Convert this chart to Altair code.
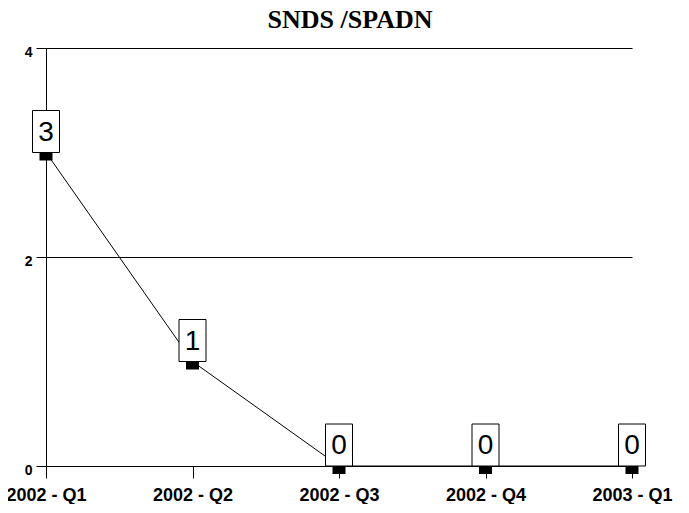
import altair as alt
import pandas as pd

quarters = ["2002 - Q1", "2002 - Q2", "2002 - Q3", "2002 - Q4", "2003 - Q1"]
values = [3, 1, 0, 0, 0]

df = pd.DataFrame({"q": quarters, "v": values})

x = alt.X("q:N", sort=quarters, title=None,
          scale=alt.Scale(type="point", padding=0),
          axis=alt.Axis(labelAngle=0, labelFont="Liberation Sans", labelFontWeight="bold",
                        labelFontSize=18, labelColor="black", tickSize=12, tickColor="black",
                        domainColor="black", labelPadding=8, grid=False))
y = alt.Y("v:Q", title=None, scale=alt.Scale(domain=[0, 4]),
          axis=alt.Axis(values=[0, 2, 4], labelFont="Liberation Sans", labelFontWeight="bold",
                        labelFontSize=14, labelColor="black", tickSize=10, tickColor="black",
                        domainColor="black", gridColor="black", gridOpacity=1, gridWidth=1,
                        labelPadding=4, labelBaseline="middle", labelOffset=4))

base = alt.Chart(df)

line = base.mark_line(color="black", strokeWidth=1).encode(x=x, y=y)

markers = base.mark_point(
    shape="M-1,0H1V1.23H-1Z", filled=True, fill="black", strokeWidth=0, size=169, opacity=1
).encode(x=x, y=y)

boxes = base.mark_point(
    shape="M-1,0H1V-3.11H-1Z", filled=True, fill="white", stroke="black", strokeWidth=1,
    size=729, opacity=1
).encode(x=x, y=y)

labels = base.mark_text(
    font="Liberation Sans", fontSize=28, color="black", dy=-20, baseline="middle", align="center"
).encode(x=x, y=y, text="v:Q")

chart = alt.layer(line, markers, boxes, labels).properties(
    width=586, height=418,
    padding={"left": 38, "top": 40, "right": 48, "bottom": 38},
    autosize=alt.AutoSizeParams(type="none"),
    background="white",
    title=alt.TitleParams("SNDS /SPADN", font="Liberation Serif", fontSize=26, fontWeight="bold",
                          color="black", anchor="middle", frame="group",
                          offset=12, dx=11),
).configure_view(strokeWidth=0, stroke=None)

chart.save("out.html", embed_options={"renderer": "svg", "actions": False})
